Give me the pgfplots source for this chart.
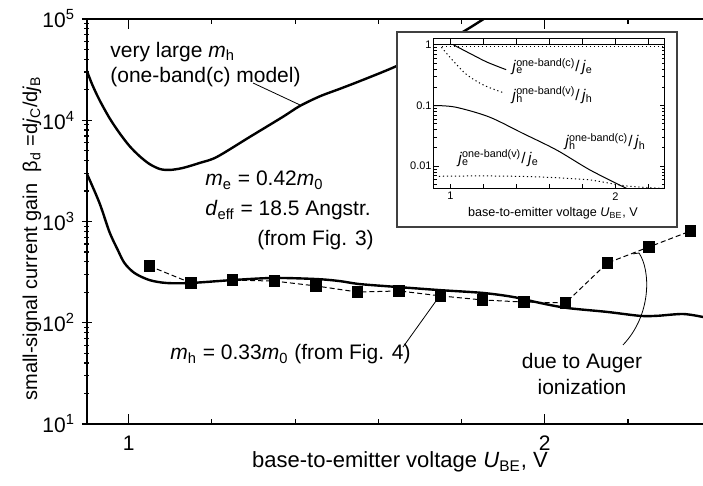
\documentclass[border=0pt]{standalone}
\usepackage{fontspec}
\setmainfont{Liberation Sans}
\usepackage{pgfplots}
\pgfplotsset{compat=1.18}

\newcommand{\mainfs}{\fontsize{10.5}{12.6}\selectfont}
\newcommand{\jr}[3]{\textit{j}\rlap{\textsubscript{#1}}\textsuperscript{#2}/\,\textit{j}\textsubscript{#3}}

\begin{document}
\begin{tikzpicture}[ann/.style={font=\mainfs, inner sep=0pt},
  ilab/.style={font=\fontsize{7.7}{9}\selectfont, inner sep=0pt, anchor=base west}]
% main axis
\begin{axis}[
  scale only axis, width=308pt, height=202.5pt,
  xmin=0.9, xmax=2.38, ymode=log, ymin=10, ymax=1e5,
  axis x line=box, axis y line=left,
  axis line style={-, line width=0.75pt},
  xtick={1,2}, xticklabels={1,2},
  minor xtick={1.2,1.4,1.6,1.8,2.2},
  ytick={10,100,1000,10000,100000},
  yticklabels={10\textsuperscript{1},10\textsuperscript{2},10\textsuperscript{3},10\textsuperscript{4},10\textsuperscript{5}},
  minor ytick={20,30,40,50,60,70,80,90,200,300,400,500,600,700,800,900,2000,3000,4000,5000,6000,7000,8000,9000,20000,30000,40000,50000,60000,70000,80000,90000},
  major tick length=5pt, minor tick length=2.5pt,
  tick style={black, line width=0.6pt},
  tick label style={font=\mainfs},
  xticklabel style={yshift=-2.5pt},
  label style={font=\mainfs},
  xlabel={base-to-emitter voltage \textit{U}\textsubscript{BE}, V},
  ylabel={small-signal current gain\ \ β\textsubscript{d} =d\textit{j}\textsubscript{C}/d\textit{j}\textsubscript{B}},
  every axis x label/.style={at={(rel axis cs:0.508,0)}, anchor=base, yshift=-22pt, font=\fontsize{11}{13}\selectfont},
  every axis y label/.style={at={(rel axis cs:-0.081,0.459)}, rotate=90, anchor=base},
]
% very large m_h, one-band(c) model
\addplot[black, line width=1.2pt, smooth] coordinates {
  (0.899,31300) (0.913,22300) (0.930,15850) (0.954,10520) (0.978,7480)
  (1.002,5570) (1.026,4430) (1.050,3700) (1.075,3300) (1.099,3230)
  (1.130,3377) (1.171,3790) (1.212,4340) (1.291,6840) (1.370,10770)
  (1.411,13800) (1.459,17200) (1.507,20400) (1.555,24300) (1.639,33600)
  (1.724,49400) (1.803,74500) (1.861,104700) (1.892,123000)
};
% m_h = 0.33 m_0
\addplot[black, line width=1.2pt, smooth] coordinates {
  (0.899,3013) (0.930,1524) (0.954,787) (0.974,523) (0.990,389)
  (1.014,310) (1.050,264) (1.091,247) (1.149,247) (1.250,264)
  (1.349,277) (1.452,270) (1.507,258) (1.555,241) (1.649,225)
  (1.748,210) (1.851,197) (1.923,180) (1.988,157) (2.053,140)
  (2.149,128) (2.228,117) (2.269,117) (2.332,122) (2.38,114)
};
% measured
\addplot[black, line width=0.5pt, dash pattern=on 2.5pt off 1.5pt,
  mark=square*, mark size=2.6pt, mark options={solid}] coordinates {
  (1.05,363) (1.15,247) (1.25,264) (1.35,258) (1.45,231) (1.55,201)
  (1.65,206) (1.75,184) (1.85,168) (1.95,160) (2.05,157) (2.15,389)
  (2.25,560) (2.35,805)
};
% annotations
\node[ann, anchor=base west] at (rel axis cs:0.0373,0.906) {very large \textit{m}\textsubscript{h}};
\node[ann, anchor=base west] at (rel axis cs:0.0373,0.843) {(one-band(c) model)};
\draw[line width=0.4pt] (rel axis cs:0.2695,0.842) -- (rel axis cs:0.3458,0.7877);
\node[ann, anchor=base west] at (rel axis cs:0.1916,0.588) {\textit{m}\textsubscript{e} = 0.42\textit{m}\textsubscript{0}};
\node[ann, anchor=base west] at (rel axis cs:0.1916,0.514) {\textit{d}\textsubscript{eff} = 18.5 Angstr.};
\node[ann, anchor=base west] at (rel axis cs:0.276,0.44) {(from Fig. 3)};
\node[ann, anchor=base west] at (rel axis cs:0.1347,0.158) {\textit{m}\textsubscript{h} = 0.33\textit{m}\textsubscript{0} (from Fig. 4)};
\draw[line width=0.4pt] (rel axis cs:0.513,0.190) -- (rel axis cs:0.578,0.328);
\node[ann, anchor=base] at (rel axis cs:0.8036,0.138) {due to Auger};
\node[ann, anchor=base] at (rel axis cs:0.8036,0.074) {ionization};
\draw[line width=0.4pt] (rel axis cs:0.8701,0.1951) .. controls (rel axis cs:0.917,0.27) and (rel axis cs:0.915,0.38) .. (rel axis cs:0.8961,0.4222) -- (rel axis cs:0.886,0.420);
\end{axis}

% inset frame
\draw[fill=white, draw=black!75, line width=0.6pt] (155pt,98.5pt) rectangle (295pt,196pt);

% inset axis
\begin{axis}[
  at={(173.5pt,117.5pt)}, anchor=south west,
  scale only axis, width=115.5pt, height=75pt,
  xmin=0.9, xmax=2.3, ymode=log, ymin=0.0042, ymax=1.25,
  axis line style={line width=0.5pt},
  xtick={1,1.2,1.4,1.6,1.8,2,2.2}, xticklabels={1,,,,,2,},
  ytick={0.01,0.1,1}, yticklabels={0.01,0.1,1},
  minor ytick={0.005,0.006,0.007,0.008,0.009,0.02,0.03,0.04,0.05,0.06,0.07,0.08,0.09,0.2,0.3,0.4,0.5,0.6,0.7,0.8,0.9},
  major tick length=2.5pt, minor tick length=1.5pt,
  tick style={black, line width=0.4pt},
  tick label style={font=\fontsize{5.5}{6.5}\selectfont},
  yticklabel style={inner sep=1pt},
  xticklabel style={inner sep=1.5pt},
  xlabel={base-to-emitter voltage \textit{U}\textsubscript{BE}, V},
  every axis x label/.style={at={(rel axis cs:0.515,0)}, anchor=base, yshift=-14pt, font=\fontsize{6.3}{7.5}\selectfont},
]
\addplot[black, line width=0.5pt] coordinates {(0.9,1) (2.3,1)};
\addplot[black, line width=0.5pt, dash pattern=on 0.6pt off 1.4pt] coordinates {(0.95,0.95) (2.3,0.95)};
\addplot[black, line width=0.5pt, smooth] coordinates {
  (1.018,1.0) (1.123,0.71) (1.221,0.52) (1.337,0.39)
};
\addplot[black, line width=0.5pt, smooth, dash pattern=on 0.6pt off 1.4pt] coordinates {
  (0.945,0.916) (1.018,0.538) (1.098,0.323) (1.202,0.216) (1.325,0.161)
};
\addplot[black, line width=0.5pt, smooth] coordinates {
  (0.9,0.1) (1.03,0.094) (1.233,0.065) (1.436,0.035) (1.644,0.0184)
  (1.847,0.0086) (2.074,0.0042)
};
\addplot[black, line width=0.5pt, smooth, dash pattern=on 0.6pt off 1.4pt] coordinates {
  (0.93,0.0068) (1.2,0.0069) (1.5,0.0067) (1.7,0.0063) (1.85,0.0059)
  (2.07,0.0047) (2.29,0.0043)
};
\node[ilab] at (rel axis cs:0.338,0.78) {\jr{e}{one-band(c)}{e}};
\node[ilab] at (rel axis cs:0.338,0.593) {\jr{h}{one-band(v)}{h}};
\node[ilab] at (rel axis cs:0.567,0.28) {\jr{h}{one-band(c)}{h}};
\node[ilab] at (rel axis cs:0.104,0.173) {\jr{e}{one-band(v)}{e}};
\end{axis}

\pgfresetboundingbox
\path (-43.5pt,-31pt) rectangle (308pt,212pt);
\end{tikzpicture}
\end{document}
